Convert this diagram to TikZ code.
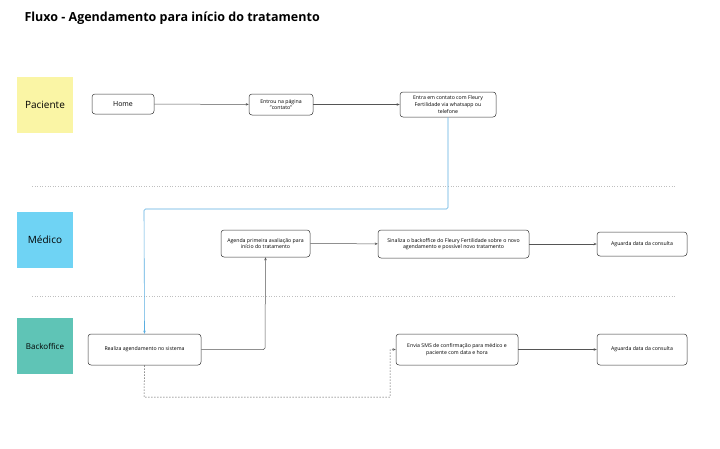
\documentclass[tikz,border=0pt]{standalone}
\usepackage{fontspec}
\setmainfont{Open Sans}
\usetikzlibrary{arrows.meta}
\definecolor{yel}{HTML}{FAF5A5}
\definecolor{blu}{HTML}{6FD3F4}
\definecolor{tea}{HTML}{5FC4B6}
\definecolor{lin}{HTML}{555555}
\definecolor{bl}{HTML}{5AAEE0}
\begin{document}
\begin{tikzpicture}[x=1pt,y=-1pt,
 box/.style={draw=black!80,rounded corners=3pt,line width=0.5pt,align=center,font=\fontsize{5.2}{6.7}\selectfont,inner sep=1pt},
 sticky/.style={minimum width=56pt,minimum height=56pt,inner sep=0pt,font=\fontsize{10}{12}\selectfont},
 con/.style={draw=lin,line width=0.5pt,-{Stealth[length=3pt,width=2.5pt]}},
 sep/.style={draw=black!25,dotted,line width=0.6pt}]
\useasboundingbox (0,0) rectangle (720,448);
\node[anchor=west,font=\bfseries\fontsize{12.5}{14}\selectfont] (title) at (21,18) {Fluxo - Agendamento para início do tratamento};
\node[sticky,fill=yel] (pac) at (45,105) {Paciente};
\node[sticky,fill=blu] (med) at (45,240) {Médico};
\node[sticky,fill=tea,font=\fontsize{8}{10}\selectfont] (back) at (45,346) {Backoffice};
\draw[sep] (32,186) -- (676,186);
\draw[sep] (32,296) -- (676,296);
\node[box,minimum width=62pt,minimum height=20pt,font=\fontsize{7}{8}\selectfont] (home) at (123,104) {Home};
\node[box,minimum width=64pt,minimum height=21pt] (entrou) at (281,104.5) {Entrou na página\\"contato"};
\node[box,minimum width=96pt,minimum height=25pt] (entra) at (448,104.5) {Entra em contato com Fleury\\Fertilidade via whatsapp ou\\telefone};
\node[box,minimum width=89pt,minimum height=27pt] (agenda) at (265.5,243.5) {Agenda primeira avaliação para\\início do tratamento};
\node[box,minimum width=151pt,minimum height=28pt] (sinal) at (453.5,244) {Sinaliza o backoffice do Fleury Fertilidade sobre o novo\\agendamento e possível novo tratamento};
\node[box,minimum width=90pt,minimum height=24pt] (ag1) at (642,244) {Aguarda data da consulta};
\node[box,minimum width=113pt,minimum height=31pt] (real) at (144.5,349.5) {Realiza agendamento no sistema};
\node[box,minimum width=122pt,minimum height=31pt] (envia) at (457,349.5) {Envia SMS de confirmação para médico e\\paciente com data e hora};
\node[box,minimum width=90pt,minimum height=31pt] (ag2) at (642,349.5) {Aguarda data da consulta};
\draw[con] (home) -- (entrou);
\draw[con] (entrou) -- (entra);
\draw[con,draw=bl,line width=0.6pt,rounded corners=1.5pt] (entra.south) -- (entra.south|-0,209) -- (144,209) -- (real.north);
\draw[con,rounded corners=1.5pt] (real.east) -- (265,349.5) -- (agenda.south);
\draw[con] (agenda) -- (sinal);
\draw[con] (sinal) -- (ag1);
\draw[con,dash pattern=on 1.5pt off 1.5pt] (real.south) -- (144,397) -- (390,397) -- (390,349.5) -- (envia.west);
\draw[con] (envia) -- (ag2);
\end{tikzpicture}
\end{document}
